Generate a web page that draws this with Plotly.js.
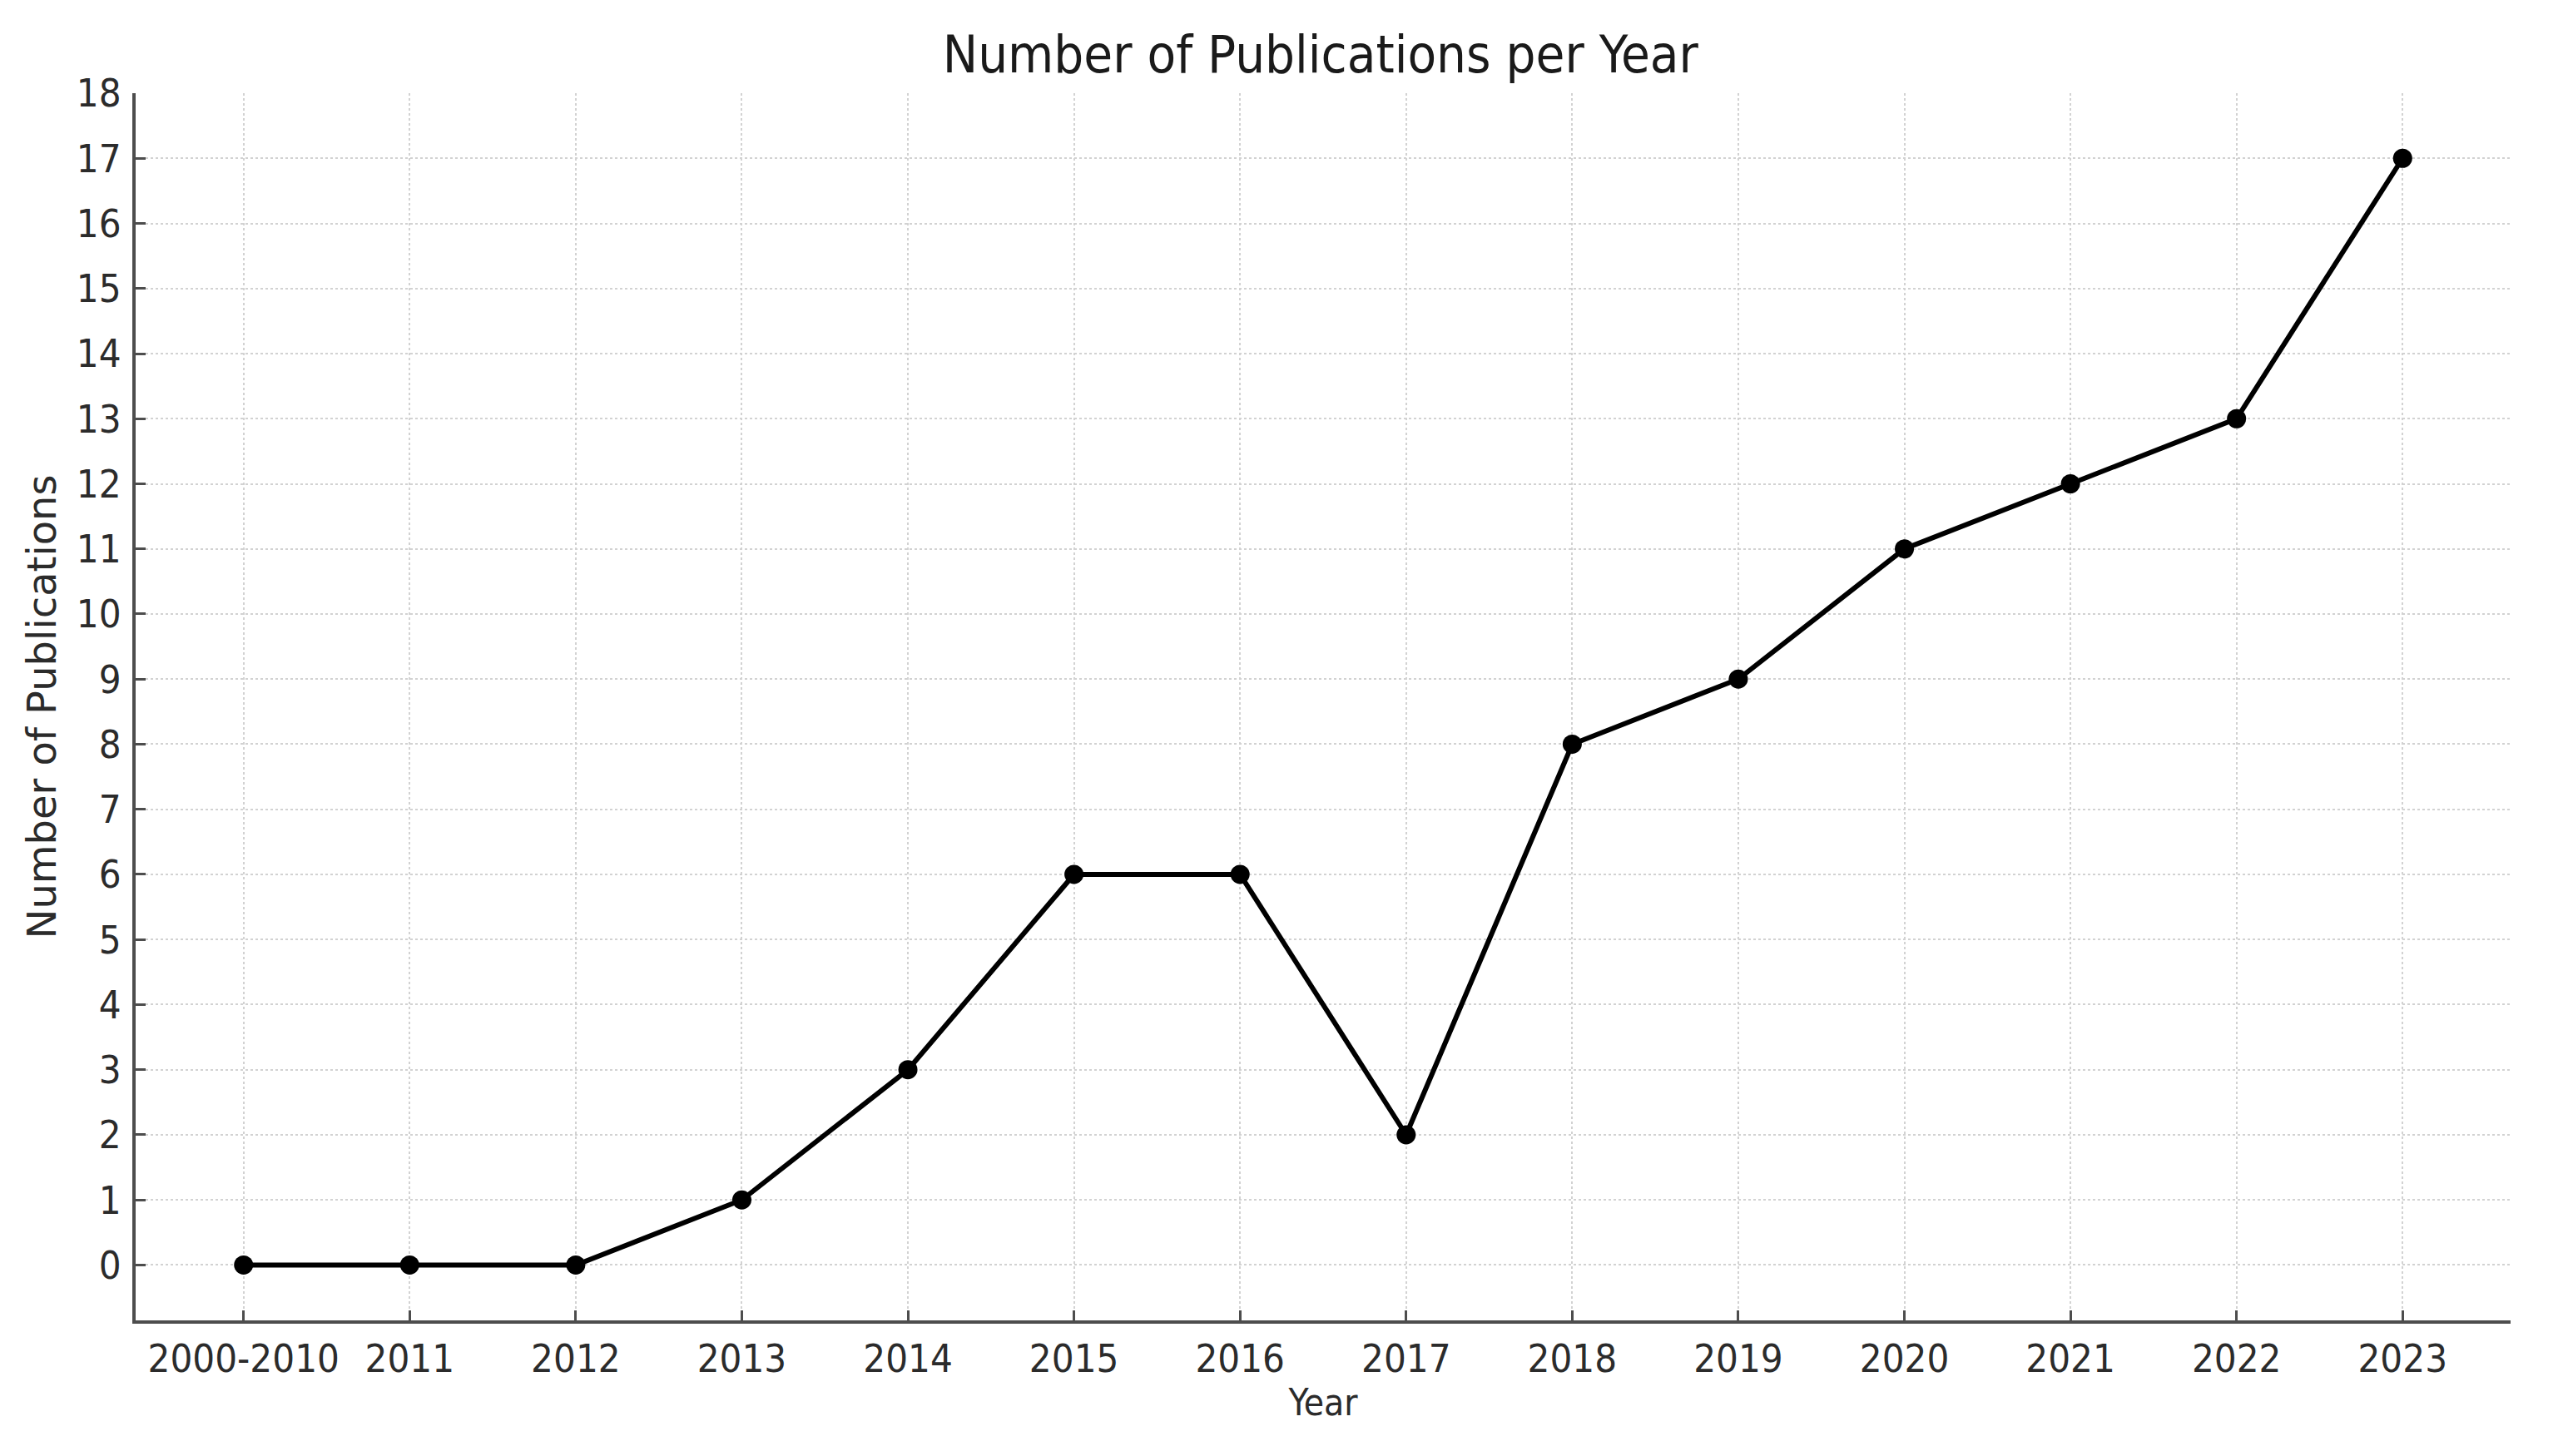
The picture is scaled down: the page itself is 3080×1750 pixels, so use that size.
<!DOCTYPE html>
<html>
<head>
<meta charset="utf-8">
<script src="https://cdn.plot.ly/plotly-3.0.1.min.js"></script>
<style>html,body{margin:0;padding:0;background:#fff;}</style>
</head>
<body>
<div id="chart" style="width:3080px;height:1750px;"></div>
<script>
const years = ["2000-2010","2011","2012","2013","2014","2015","2016","2017","2018","2019","2020","2021","2022","2023"];
const publications = [0,0,0,1,3,6,6,2,8,9,11,12,13,17];
const yTicks = [0,1,2,3,4,5,6,7,8,9,10,11,12,13,14,15,16,17,18];

const narrow = "DejaVu Sans Condensed, DejaVu Sans, sans-serif";
const axisColor = "#4d4d4d";
const gridColor = "#d2d2d2";

const trace = {
  type: "scatter",
  mode: "lines+markers",
  x: years,
  y: publications,
  line: {color: "#000000", width: 6},
  marker: {color: "#000000", size: 23},
  cliponaxis: false,
  hoverinfo: "x+y"
};

const layout = {
  width: 3080,
  height: 1750,
  paper_bgcolor: "#ffffff",
  plot_bgcolor: "#ffffff",
  margin: {l: 163, r: 63, t: 112, b: 163, pad: 0},
  showlegend: false,
  title: {
    text: "Number of Publications per Year",
    font: {family: narrow, size: 63, color: "#1a1a1a"},
    x: 0.5152, xanchor: "center", xref: "container",
    y: 0.963, yanchor: "middle", yref: "container"
  },
  xaxis: {
    type: "category",
    categoryorder: "array",
    categoryarray: years,
    range: [-0.65, 13.65],
    showline: true, linecolor: axisColor, linewidth: 4,
    ticks: "inside", ticklen: 12, tickwidth: 3, tickcolor: axisColor,
    showgrid: true, gridcolor: gridColor, gridwidth: 2, griddash: "dot",
    zeroline: false,
    tickangle: 0,
    tickfont: {family: narrow, size: 47, color: "#2b2b2b"},
    ticklabelstandoff: 2,
    title: {text: "Year", font: {family: narrow, size: 44, color: "#2b2b2b"}, standoff: 12},
    automargin: false
  },
  yaxis: {
    range: [-0.85, 18],
    tickmode: "array",
    tickvals: yTicks,
    ticktext: yTicks.map(String),
    showline: true, linecolor: axisColor, linewidth: 4,
    ticks: "inside", ticklen: 12, tickwidth: 3, tickcolor: axisColor,
    showgrid: true, gridcolor: gridColor, gridwidth: 2, griddash: "dot",
    zeroline: false,
    tickfont: {family: narrow, size: 47, color: "#2b2b2b"},
    ticklabelstandoff: 4,
    title: {text: "Number of Publications", font: {family: "DejaVu Sans, sans-serif", size: 48, color: "#2b2b2b"}, standoff: 10},
    automargin: false
  }
};

Plotly.newPlot("chart", [trace], layout, {displayModeBar: false, staticPlot: true});
</script>
</body>
</html>
